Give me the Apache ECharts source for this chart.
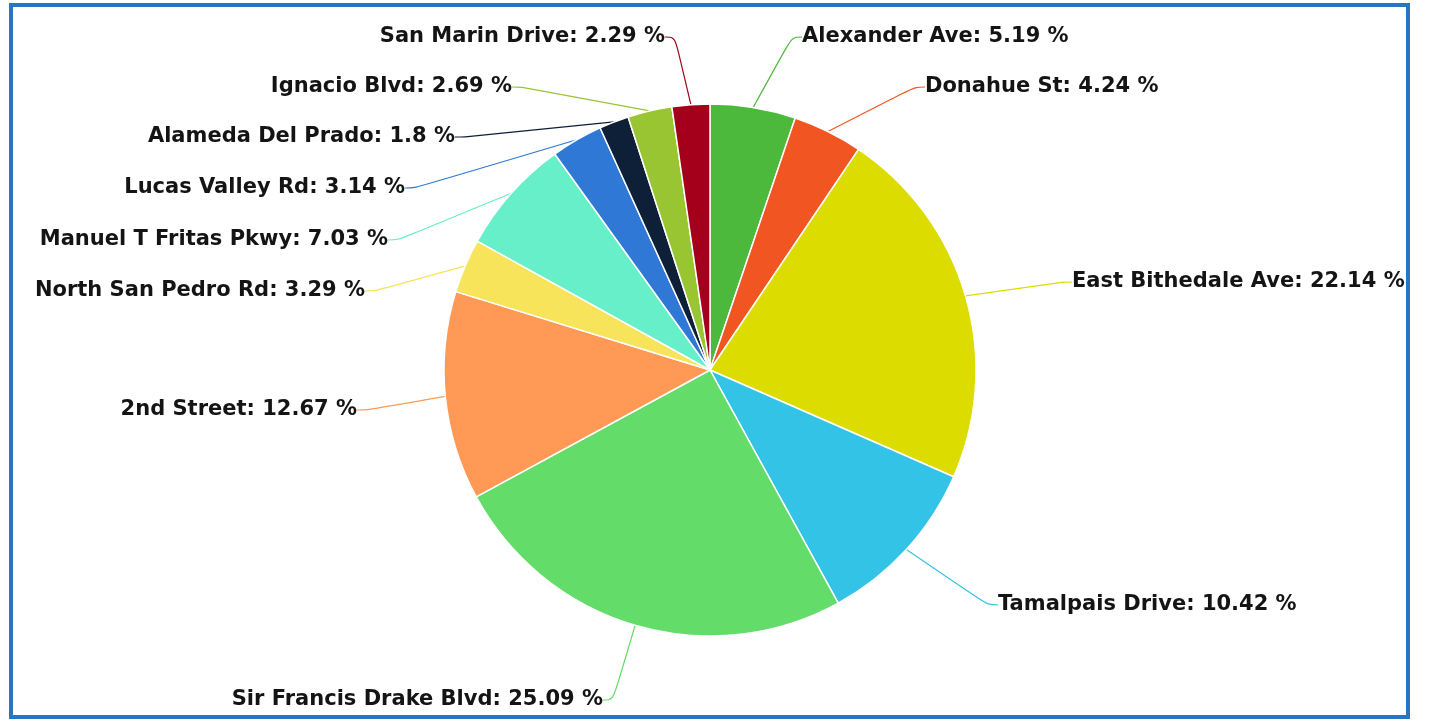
<!DOCTYPE html>
<html>
<head>
<meta charset="utf-8">
<script src="https://cdn.jsdelivr.net/npm/echarts@6/dist/echarts.min.js"></script>
<style>
html,body{margin:0;padding:0;background:#fff;}
#frame{position:absolute;left:9px;top:3px;width:1393px;height:708px;border:4px solid #2a74c4;}
#chart{position:absolute;left:0;top:0;width:1430px;height:721px;}
</style>
</head>
<body>
<div id="frame"></div>
<div id="chart"></div>
<script>
const categories = ["Alexander Ave","Donahue St","East Bithedale Ave","Tamalpais Drive","Sir Francis Drake Blvd","2nd Street","North San Pedro Rd","Manuel T Fritas Pkwy","Lucas Valley Rd","Alameda Del Prado","Ignacio Blvd","San Marin Drive"];
const percents = [5.19, 4.24, 22.14, 10.42, 25.09, 12.67, 3.29, 7.03, 3.14, 1.8, 2.69, 2.29];
const colors = ["#4cb83c","#f05522","#dcdc00","#33c3e6","#64dc6a","#ff9955","#f7e45a","#66efc9","#2f78d6","#0e1f38","#9ac532","#a5001b"];
// label anchor placement (layout only)
const labelPlace = [
  [802,37,"left"],[925,87,"left"],[1072,282,"left"],[998,605,"left"],
  [603,700,"right"],[357,410,"right"],[365,291,"right"],[388,240,"right"],
  [405,188,"right"],[455,137,"right"],[512,87,"right"],[665,37,"right"]
];
const chart = echarts.init(document.getElementById('chart'), null, {renderer:'canvas'});
chart.setOption({
  animation:false,
  series:[{
    type:'pie',
    center:[710,370],
    radius:266,
    startAngle:90,
    clockwise:true,
    avoidLabelOverlap:false,
    itemStyle:{borderColor:'#ffffff',borderWidth:1.5},
    label:{
      show:true,
      formatter:'{b}: {c} %',
      color:'#141414',
      fontFamily:'DejaVu Sans, Liberation Sans, sans-serif',
      fontWeight:'bold',
      fontSize:21
    },
    labelLine:{show:true,smooth:0.4,length:20,length2:10,lineStyle:{width:1.2}},
    labelLayout:function(p){
      const lp = labelPlace[p.dataIndex];
      return {x:lp[0], y:lp[1], align:lp[2], verticalAlign:'middle'};
    },
    data:categories.map((c,i)=>({name:c,value:percents[i],itemStyle:{color:colors[i]}}))
  }]
});
</script>
</body>
</html>
